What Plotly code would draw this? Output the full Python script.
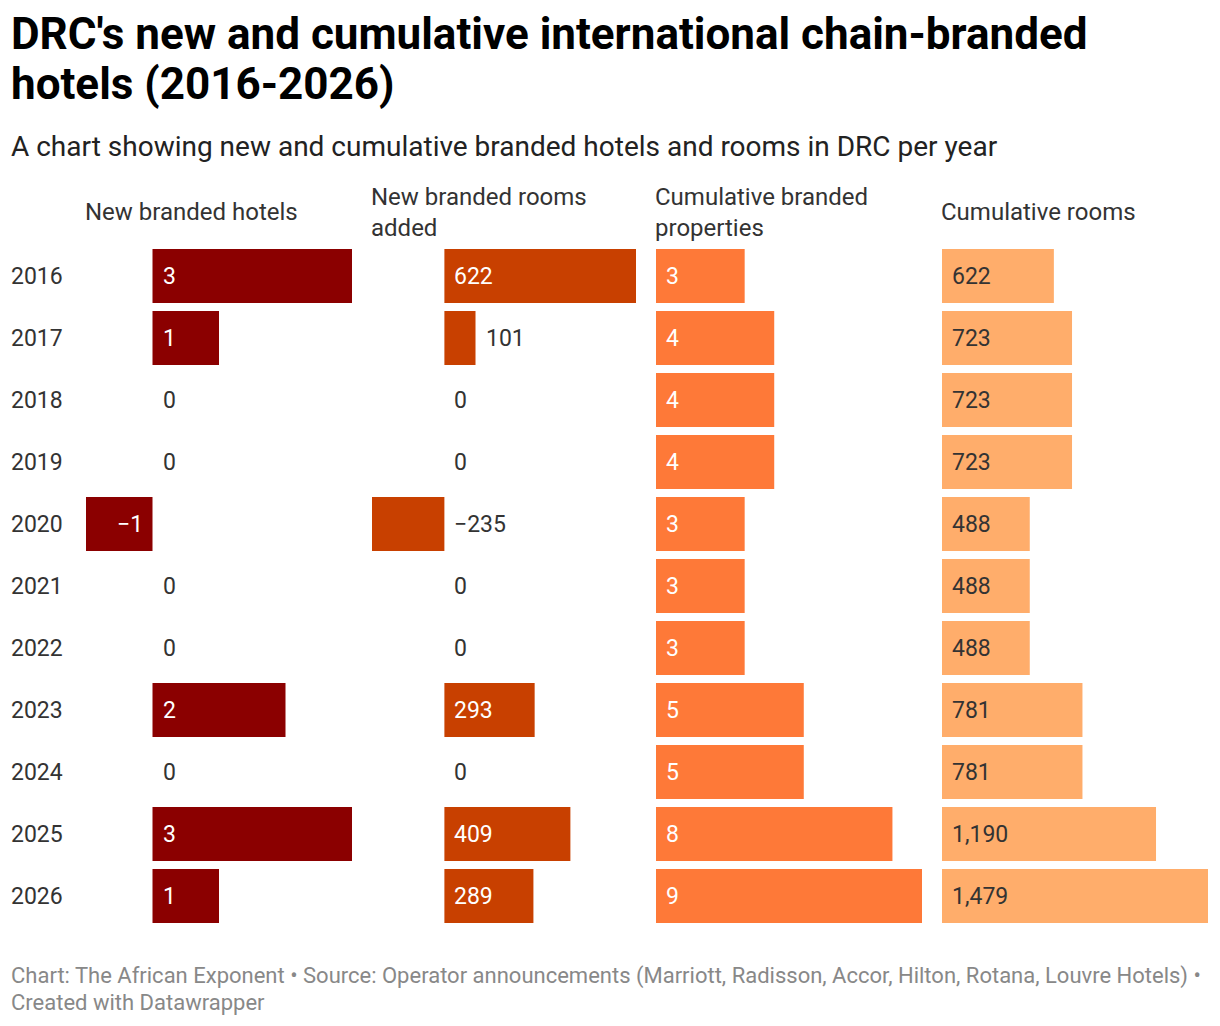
import plotly.graph_objects as go

years = ['2016', '2017', '2018', '2019', '2020', '2021', '2022', '2023', '2024', '2025', '2026']
new_hotels = [3, 1, 0, 0, -1, 0, 0, 2, 0, 3, 1]
new_rooms = [622, 101, 0, 0, -235, 0, 0, 293, 0, 409, 289]
cum_props = [3, 4, 4, 4, 3, 3, 3, 5, 5, 8, 9]
cum_rooms = [622, 723, 723, 723, 488, 488, 488, 781, 781, 1190, 1479]

headers = ['New branded hotels', 'New branded rooms<br>added',
           'Cumulative branded<br>properties', 'Cumulative rooms']
colors = ['#8b0000', '#c84000', '#fe7938', '#ffad6b']
inside_text = ['white', 'white', 'white', '#333333']

W, H = 1220, 1026
OFF = 8  # page body margin
FONT = 'Roboto'

# pixel columns of each panel (left, right) and its value range
panels = [
    (new_hotels, (86, 352), [-1, 3]),
    (new_rooms, (372, 636), [-235, 622]),
    (cum_props, (656, 922), [0, 9]),
    (cum_rooms, (942, 1208), [0, 1479]),
]


def px(x):
    return (x - OFF) / W


def py(y):
    return 1 - (y - OFF) / H


def fmt(v):
    s = f'{abs(v):,}'
    return ('\u2212' + s) if v < 0 else s


fig = go.Figure()
annotations = []

for i, (vals, (x0, x1), rng) in enumerate(panels):
    n = '' if i == 0 else str(i + 1)
    fig.add_trace(go.Bar(
        x=vals, y=years, orientation='h',
        marker=dict(color=colors[i], line=dict(width=0)),
        xaxis='x' + n, yaxis='y', hoverinfo='skip', showlegend=False,
    ))
    fig.update_layout({
        'xaxis' + n: dict(domain=[px(x0), px(x1)], range=rng, visible=False,
                          fixedrange=True, anchor='y'),
    })
    scale = (x1 - x0) / (rng[1] - rng[0])
    # category axes take the row index for annotations
    for row, v in enumerate(vals):
        label = fmt(v)
        bar_px = abs(v) * scale
        inside = bar_px > len(label) * 13 + 22
        if v > 0 and inside:
            a = dict(x=0, xanchor='left', xshift=8, color=inside_text[i])
        elif v < 0 and inside:
            a = dict(x=0, xanchor='right', xshift=-8, color=inside_text[i])
        elif v > 0:
            a = dict(x=v, xanchor='left', xshift=8, color='#333333')
        else:
            a = dict(x=0, xanchor='left', xshift=8, color='#333333')
        annotations.append(dict(
            x=a['x'], y=row, xref='x' + n, yref='y', text=label,
            xanchor=a['xanchor'], xshift=a['xshift'], showarrow=False,
            font=dict(family=FONT, size=23, color=a['color']),
        ))
    annotations.append(dict(
        x=px(x0 - 3), y=py(212), xref='paper', yref='paper', text=headers[i],
        xanchor='left', yanchor='middle', align='left', showarrow=False,
        font=dict(family=FONT, size=24, color='#333333'),
    ))

for row, yr in enumerate(years):
    annotations.append(dict(
        x=px(9), y=row, xref='paper', yref='y', text=yr, xanchor='left',
        showarrow=False, font=dict(family=FONT, size=23, color='#333333'),
    ))

title_lines = ["DRC's new and cumulative international chain-branded",
               'hotels (2016-2026)']
for k, line in enumerate(title_lines):
    annotations.append(dict(
        x=px(9), y=py(34 + 50 * k), xref='paper', yref='paper', xanchor='left',
        yanchor='middle', showarrow=False, text='<b>' + line + '</b>',
        font=dict(family=FONT, size=44, color='#000000')))

annotations.append(dict(
    x=px(9), y=py(146), xref='paper', yref='paper', xanchor='left',
    yanchor='middle', showarrow=False,
    text='A chart showing new and cumulative branded hotels and rooms in DRC per year',
    font=dict(family=FONT, size=28, color='#222222')))

footer_lines = ['Chart: The African Exponent \u2022 Source: Operator announcements (Marriott, Radisson, Accor, Hilton, Rotana, Louvre Hotels) \u2022',
                'Created with Datawrapper']
for k, line in enumerate(footer_lines):
    annotations.append(dict(
        x=px(9), y=py(976 + 26 * k), xref='paper', yref='paper', xanchor='left',
        yanchor='middle', showarrow=False, text=line,
        font=dict(family=FONT, size=22, color='#888888')))

fig.update_layout(
    width=W, height=H,
    margin=dict(l=0, r=0, t=0, b=0),
    paper_bgcolor='white', plot_bgcolor='white',
    bargap=0.13,
    yaxis=dict(domain=[py(927), py(245)], type='category', range=[10.5, -0.5],
               visible=False, fixedrange=True),
    annotations=annotations,
    font=dict(family=FONT),
)

fig.write_html('out.html')
